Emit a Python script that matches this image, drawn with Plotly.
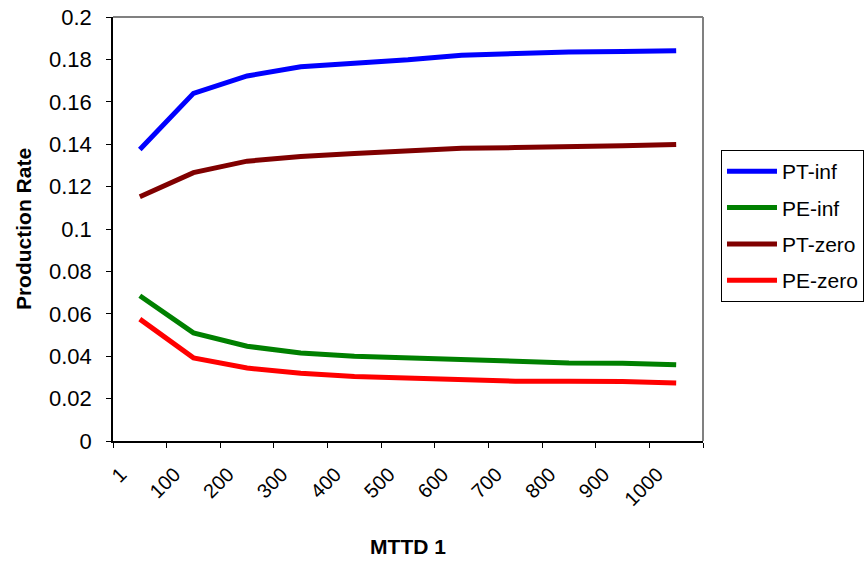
import plotly.graph_objects as go

# MTTD 1 categories on the x axis
mttd = ["1", "100", "200", "300", "400", "500", "600", "700", "800", "900", "1000"]

# Production rate per scenario
pt_inf = [0.1375, 0.1640, 0.1722, 0.1765, 0.1782, 0.1798, 0.1820, 0.1830, 0.1835, 0.1837, 0.1841]
pe_inf = [0.0685, 0.0510, 0.0447, 0.0415, 0.0400, 0.0392, 0.0383, 0.0375, 0.0368, 0.0367, 0.0360]
pt_zero = [0.1152, 0.1266, 0.1320, 0.1342, 0.1356, 0.1368, 0.1381, 0.1384, 0.1391, 0.1393, 0.1399]
pe_zero = [0.0575, 0.0392, 0.0344, 0.0320, 0.0304, 0.0297, 0.0289, 0.0282, 0.0282, 0.0281, 0.0274]

series = [
    ("PT-inf", pt_inf, "#0000FF"),
    ("PE-inf", pe_inf, "#008000"),
    ("PT-zero", pt_zero, "#800000"),
    ("PE-zero", pe_zero, "#FF0000"),
]

FONT = "Liberation Sans, Arial, sans-serif"

fig = go.Figure()
for i, (name, vals, color) in enumerate(series):
    fig.add_trace(go.Scatter(
        x=mttd, y=vals, name=name, mode="lines",
        line=dict(color=color, width=5),
        legendgroup=f"g{i}",
    ))

fig.update_layout(
    width=867, height=561,
    margin=dict(l=113, r=164, t=17, b=120, autoexpand=False),
    paper_bgcolor="white", plot_bgcolor="white",
    font=dict(family=FONT, size=21, color="black"),
    showlegend=True,
    legend=dict(
        x=1.0305, y=0.686, xanchor="left", yanchor="top",
        bordercolor="black", borderwidth=1,
        font=dict(size=21),
        tracegroupgap=6,
        itemwidth=50,
    ),
    xaxis=dict(
        type="category", range=[-0.5, 10.5],
        tickson="boundaries", ticks="outside", ticklen=5, tickcolor="black",
        tickangle=-45, showgrid=False, zeroline=False,
        showline=True, linecolor="black", linewidth=1.5,
        tickfont=dict(size=20),
        ticklabelstandoff=12,
        ticklabelshift=-19,
        title=dict(text="<b>MTTD 1</b>", font=dict(size=21), standoff=30),
    ),
    yaxis=dict(
        range=[0, 0.2], dtick=0.02, tick0=0,
        ticks="outside", ticklen=5, tickcolor="black",
        tickformat="~g", showgrid=False, zeroline=False,
        showline=True, linecolor="black", linewidth=1.5,
        tickfont=dict(size=22),
        ticklabelstandoff=10,
        title=dict(text="<b>Production Rate</b>", font=dict(size=21), standoff=12),
    ),
    shapes=[
        dict(type="line", xref="paper", yref="paper", x0=0, x1=1, y0=1, y1=1,
             line=dict(color="#808080", width=2), layer="below"),
        dict(type="line", xref="paper", yref="paper", x0=1, x1=1, y0=0, y1=1,
             line=dict(color="#808080", width=2), layer="below"),
    ],
)

fig.write_html("out.html")
